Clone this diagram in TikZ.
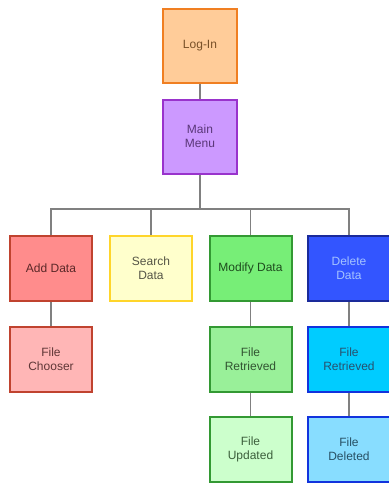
\documentclass[tikz,border=0pt]{standalone}
\usepackage{fontspec}
\setmainfont{Liberation Sans}

\definecolor{loginfill}{HTML}{FFCC99}
\definecolor{loginline}{HTML}{F07F22}
\definecolor{menufill}{HTML}{CC99FF}
\definecolor{menuline}{HTML}{9933CC}
\definecolor{addfill}{HTML}{FF8C8C}
\definecolor{addline}{HTML}{C0432F}
\definecolor{choosefill}{HTML}{FFB6B6}
\definecolor{searchfill}{HTML}{FFFFCC}
\definecolor{searchline}{HTML}{FFD52A}
\definecolor{modfill}{HTML}{77EE77}
\definecolor{retrfill}{HTML}{99F099}
\definecolor{updfill}{HTML}{CCFFCC}
\definecolor{greenline}{HTML}{339933}
\definecolor{delfill}{HTML}{3355FF}
\definecolor{delline}{HTML}{1A2A9A}
\definecolor{cyanfill}{HTML}{00CCFF}
\definecolor{skyfill}{HTML}{88DDFF}
\definecolor{blueline}{HTML}{1133DD}
\definecolor{link}{HTML}{808080}

\begin{document}
\begin{tikzpicture}[x=0.75pt, y=-0.75pt,
	box/.style={draw, line width=1.5pt, minimum width=61.5pt, minimum height=48.75pt,
		align=center, inner sep=1pt, font=\fontsize{9}{10.5}\selectfont},
	topbox/.style={box, minimum width=55.5pt, minimum height=55.5pt},
	wire/.style={draw=link, line width=1.1pt}]
	\useasboundingbox (0,0) rectangle (389,487);

	\node[topbox, fill=loginfill, draw=loginline, text={rgb,255:red,120;green,80;blue,40}] (login) at (200,46) {Log-In};
	\node[topbox, fill=menufill, draw=menuline, text={rgb,255:red,90;green,55;blue,120}] (menu) at (200,136.5) {Main\\Menu};

	\node[box, fill=addfill, draw=addline, text={rgb,255:red,90;green,40;blue,40}] (add) at (51,268.5) {Add Data};
	\node[box, fill=searchfill, draw=searchline, text={rgb,255:red,85;green,85;blue,70}] (search) at (151,268.5) {Search\\Data};
	\node[box, fill=modfill, draw=greenline, text={rgb,255:red,30;green,75;blue,30}] (modify) at (250.5,268.5) {Modify Data};
	\node[box, fill=delfill, draw=delline, text={rgb,255:red,165;green,195;blue,255}] (delete) at (349,268.5) {Delete\\Data};

	\node[box, fill=choosefill, draw=addline, text={rgb,255:red,95;green,55;blue,55}] (chooser) at (51,359) {File\\Chooser};
	\node[box, fill=retrfill, draw=greenline, text={rgb,255:red,50;green,85;blue,50}] (retrg) at (250.5,359) {File\\Retrieved};
	\node[box, fill=cyanfill, draw=blueline, text={rgb,255:red,40;green,80;blue,110}] (retrb) at (349,359) {File\\Retrieved};

	\node[box, fill=updfill, draw=greenline, text={rgb,255:red,60;green,95;blue,60}] (updated) at (250.5,449.5) {File\\Updated};
	\node[box, fill=skyfill, draw=blueline, text={rgb,255:red,40;green,80;blue,100}] (deleted) at (349,449.5) {File\\Deleted};

	\coordinate (split) at (200,209);

	\draw[wire] (login) -- (menu);
	\draw[wire] (menu) -- (split);
	\draw[wire] (add) |- (split) -| (delete);
	\draw[wire] (search) -- (search |- split);
	\draw[wire] (modify) -- (modify |- split);
	\draw[wire] (add) -- (chooser);
	\draw[wire] (modify) -- (retrg);
	\draw[wire] (retrg) -- (updated);
	\draw[wire] (delete) -- (retrb);
	\draw[wire] (retrb) -- (deleted);
\end{tikzpicture}
\end{document}
